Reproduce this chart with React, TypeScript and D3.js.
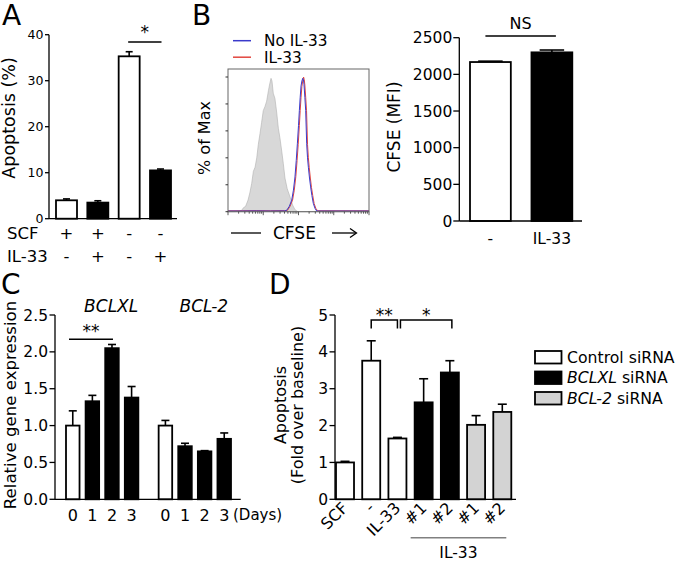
import React from 'react';
import * as d3 from 'd3';

const FONT = '"DejaVu Sans", Verdana, sans-serif';

// ---------- Panel A data ----------
const aSCF = ['+', '+', '-', '-'];
const aIL33 = ['-', '+', '-', '+'];
const aValues = [4.0, 3.5, 35.3, 10.5];
const aErrors = [0.3, 0.4, 1.0, 0.3];
const aTicks = [0, 10, 20, 30, 40];

// ---------- Panel B histogram data (x: channel 0-100, y: % of max) ----------
const histUnstained: [number, number][] = [
  [0, 0], [5, 0], [8, 0.5], [9.7, 1], [11, 3], [12.5, 4], [14.2, 8.6], [15.5, 14], [16.8, 21],
  [18, 30], [19.2, 33], [20.4, 40], [21.5, 50], [22.7, 58], [23.8, 66], [25, 75], [26.2, 78],
  [27.4, 82], [28.7, 90], [29.6, 95], [30.5, 99], [31.2, 97], [32.1, 88], [33.3, 84], [34.5, 74],
  [35.7, 62], [36.8, 55], [38.1, 45], [39.2, 36], [40.4, 25], [42, 17], [44, 11], [45.8, 5],
  [47.5, 1.5], [49.6, 0], [100, 0],
];
const histNoIL33: [number, number][] = [
  [0, 0.5], [10, 0.5], [20, 0.6], [30, 0.5], [40, 0.6], [41.6, 1], [43.5, 4], [45.2, 8.6],
  [46.4, 16], [47.5, 25.8], [48.4, 38], [49.2, 50.4], [50, 64], [50.6, 75], [51.2, 85],
  [51.8, 93.4], [52.4, 97], [53, 99], [53.5, 98], [53.9, 94.6], [54.5, 85], [55.1, 75],
  [55.8, 50.4], [56.4, 40], [57, 33], [57.8, 25], [58.6, 18.4], [59.5, 12], [60.5, 6.2],
  [61.7, 2.5], [62.9, 0.5], [100, 0.5],
];
const histIL33: [number, number][] = [
  [0, 0.7], [10, 0.7], [20, 0.8], [30, 0.7], [40, 0.8], [42.2, 1], [44, 4], [45.8, 8.6],
  [47, 16], [48.1, 26], [49, 38], [49.8, 50], [50.6, 64], [51.2, 75], [51.8, 85], [52.4, 93],
  [53, 97], [53.6, 100], [54.1, 98], [54.5, 94], [55.1, 85], [55.7, 75], [56.4, 50], [57, 40],
  [57.6, 33], [58.4, 25], [59.2, 18], [60.1, 12], [61.1, 6], [62.3, 2.5], [63.5, 0.7], [100, 0.7],
];
const histYTicks = [0, 20, 40, 60, 80, 100];
const histLegend = ['No IL-33', 'IL-33'];

// ---------- Panel B bar data ----------
const bCategories = ['-', 'IL-33'];
const bValues = [2168, 2300];
const bErrors = [12, 32];
const bTicks = [0, 500, 1000, 1500, 2000, 2500];

// ---------- Panel C data ----------
const cGenes = ['BCLXL', 'BCL-2'];
const cDays = ['0', '1', '2', '3'];
const cBCLXL = [1.0, 1.33, 2.05, 1.38];
const cBCLXLErr = [0.2, 0.08, 0.05, 0.15];
const cBCL2 = [1.0, 0.72, 0.65, 0.82];
const cBCL2Err = [0.07, 0.04, 0.01, 0.08];
const cTicks = [0, 0.5, 1.0, 1.5, 2.0, 2.5];

// ---------- Panel D data ----------
const dLabels = ['SCF', '-', 'IL-33', '#1', '#2', '#1', '#2'];
const dGroups = ['Control', 'Control', 'Control', 'BCLXL', 'BCLXL', 'BCL-2', 'BCL-2'];
const dValues = [1.0, 3.76, 1.65, 2.63, 3.44, 2.02, 2.37];
const dErrors = [0.03, 0.54, 0.03, 0.64, 0.32, 0.25, 0.21];
const dTicks = [0, 1, 2, 3, 4, 5];
const legendGroups = ['Control', 'BCLXL', 'BCL-2'];

const groupFill: Record<string, string> = { Control: '#ffffff', BCLXL: '#000000', 'BCL-2': '#d3d3d3' };

const BAR_STROKE = 1.8;

function ErrBar({ x, y0, y1, cap }: { x: number; y0: number; y1: number; cap: number }) {
  return (
    <g stroke="#000" strokeWidth={1.6} fill="none">
      <line x1={x} x2={x} y1={y0} y2={y1} />
      <line x1={x - cap / 2} x2={x + cap / 2} y1={y1} y2={y1} />
    </g>
  );
}

function YAxis({ x, scale, ticks, tickLen, fontSize, fmt, gap }: any) {
  const [r0, r1] = scale.range();
  return (
    <g>
      <line x1={x} x2={x} y1={r0} y2={r1} stroke="#000" strokeWidth={1.3} />
      {ticks.map((t: number) => (
        <g key={t}>
          <line x1={x - tickLen} x2={x} y1={scale(t)} y2={scale(t)} stroke="#000" strokeWidth={1.3} />
          <text x={x - tickLen - gap} y={scale(t)} dy="0.36em" textAnchor="end" fontSize={fontSize}>
            {fmt ? fmt(t) : String(t)}
          </text>
        </g>
      ))}
    </g>
  );
}

export default function App() {
  // ---------- Panel A ----------
  const aX = d3.scaleBand<number>().domain(d3.range(aValues.length)).range([56, 171]).paddingInner(0.33).paddingOuter(0);
  const aY = d3.scaleLinear().domain([0, 40]).range([218.7, 34.7]);
  const aBW = aX.bandwidth();

  // ---------- Panel B histogram ----------
  const hX = d3.scaleLinear().domain([0, 100]).range([228, 369]);
  const hY = d3.scaleLinear().domain([0, 100]).range([211.7, 77]);
  const hLine = d3.line<[number, number]>().x((d) => hX(d[0])).y((d) => hY(d[1]));
  const hArea = d3.area<[number, number]>().x((d) => hX(d[0])).y0(hY(0)).y1((d) => hY(d[1]));
  const hLog = d3.scaleLog().domain([1, 10000]).range([228, 369]);
  const logTicks: { v: number; major: boolean }[] = [];
  for (let e = 0; e < 4; e++) {
    for (let m = 1; m < 10; m++) logTicks.push({ v: m * Math.pow(10, e), major: m === 1 });
  }
  logTicks.push({ v: 10000, major: true });

  // ---------- Panel B bars ----------
  const bX = d3.scaleBand<string>().domain(bCategories).range([470, 572.3]).paddingInner(0.336).paddingOuter(0);
  const bY = d3.scaleLinear().domain([0, 2500]).range([221, 37.7]);
  const bBW = bX.bandwidth();

  // ---------- Panel C ----------
  const cOuter = d3.scaleBand<string>().domain(cGenes).range([66, 231]).paddingInner(0.219).paddingOuter(0);
  const cInner = d3.scaleBand<string>().domain(cDays).range([0, cOuter.bandwidth()]).paddingInner(0.31).paddingOuter(0);
  const cY = d3.scaleLinear().domain([0, 2.5]).range([499.3, 315]);
  const cBW = cInner.bandwidth();
  const cSeries = [
    { gene: cGenes[0], values: cBCLXL, errs: cBCLXLErr },
    { gene: cGenes[1], values: cBCL2, errs: cBCL2Err },
  ];
  const cBarX = (g: string, d: string) => (cOuter(g) as number) + (cInner(d) as number);

  // ---------- Panel D ----------
  const dX = d3.scaleBand<number>().domain(d3.range(dValues.length)).range([336, 511.3]).paddingInner(0.313).paddingOuter(0);
  const dY = d3.scaleLinear().domain([0, 5]).range([499.3, 315]);
  const dBW = dX.bandwidth();
  const dC = (i: number) => (dX(i) as number) + dBW / 2;

  const italicGene = (g: string) => <tspan fontStyle="italic">{g}</tspan>;

  return (
    <svg
      width={679}
      height={562}
      style={{ position: 'absolute', left: 0, top: 0, background: '#fff' }}
      fontFamily={FONT}
      fill="#000"
    >
      {/* ================= Panel A ================= */}
      <text x={2} y={25} fontSize={28}>A</text>
      <text transform={`translate(15,118) rotate(-90)`} textAnchor="middle" fontSize={17.5}>Apoptosis (%)</text>
      <YAxis x={49} scale={aY} ticks={aTicks} tickLen={4} fontSize={12.5} gap={1.5} />
      {aValues.map((v, i) => (
        <g key={i}>
          <rect
            x={aX(i)}
            y={aY(v)}
            width={aBW}
            height={aY(0) - aY(v)}
            fill={aIL33[i] === '+' ? '#000' : '#fff'}
            stroke="#000"
            strokeWidth={BAR_STROKE}
          />
          <ErrBar x={(aX(i) as number) + aBW / 2} y0={aY(v)} y1={aY(v + aErrors[i])} cap={7} />
        </g>
      ))}
      <line x1={49} x2={177} y1={aY(0)} y2={aY(0)} stroke="#000" strokeWidth={1.3} />
      <line x1={(aX(2) as number) + aBW / 2 - 1} x2={(aX(3) as number) + aBW / 2 + 1} y1={42} y2={42} stroke="#000" strokeWidth={1.5} />
      <text x={((aX(2) as number) + (aX(3) as number)) / 2 + aBW / 2} y={38} textAnchor="middle" fontSize={17}>*</text>
      <text x={7} y={233} dy="0.36em" fontSize={16.5}>SCF</text>
      <text x={7} y={256} dy="0.36em" fontSize={16.5}>IL-33</text>
      {aSCF.map((s, i) => (
        <text key={'s' + i} x={(aX(i) as number) + aBW / 2} y={233} dy="0.36em" textAnchor="middle" fontSize={16.5}>{s}</text>
      ))}
      {aIL33.map((s, i) => (
        <text key={'l' + i} x={(aX(i) as number) + aBW / 2} y={256} dy="0.36em" textAnchor="middle" fontSize={16.5}>{s}</text>
      ))}

      {/* ================= Panel B histogram ================= */}
      <text x={192} y={25} fontSize={28}>B</text>
      {histLegend.map((name, i) => (
        <g key={name}>
          <line x1={233} x2={251} y1={40.7 + i * 16.5} y2={40.7 + i * 16.5} stroke={i === 0 ? '#3a3acb' : '#e2463f'} strokeWidth={1.5} />
          <text x={264} y={40.7 + i * 16.5} dy="0.36em" fontSize={15.3}>{name}</text>
        </g>
      ))}
      <path d={hArea(histUnstained) || ''} fill="#d8d8d8" stroke="#b0b0b0" strokeWidth={0.6} />
      <path d={hLine(histIL33) || ''} fill="none" stroke="#e2463f" strokeWidth={1} />
      <path d={hLine(histNoIL33) || ''} fill="none" stroke="#3a3acb" strokeWidth={1} />
      <rect x={228} y={69} width={141} height={142.7} fill="none" stroke="#666" strokeWidth={1} />
      {histYTicks.map((t) => (
        <line key={t} x1={225.5} x2={228} y1={hY(t)} y2={hY(t)} stroke="#333" strokeWidth={1} />
      ))}
      {logTicks.map((t, i) => (
        <line key={i} x1={hLog(t.v)} x2={hLog(t.v)} y1={211.7} y2={211.7 + (t.major ? 3.5 : 2)} stroke="#333" strokeWidth={0.8} />
      ))}
      <text transform={`translate(210,138) rotate(-90)`} textAnchor="middle" fontSize={16}>% of Max</text>
      <line x1={231} x2={261} y1={233} y2={233} stroke="#000" strokeWidth={1.3} />
      <text x={273} y={233} dy="0.36em" fontSize={17}>CFSE</text>
      <line x1={332} x2={356} y1={233} y2={233} stroke="#000" strokeWidth={1.3} />
      <path d="M350,228.5 L356.5,233 L350,237.5" fill="none" stroke="#000" strokeWidth={1.3} />

      {/* ================= Panel B bars ================= */}
      <text transform={`translate(400,127) rotate(-90)`} textAnchor="middle" fontSize={17}>CFSE (MFI)</text>
      <YAxis x={459.3} scale={bY} ticks={bTicks} tickLen={6} fontSize={15.5} gap={1} />
      {bCategories.map((c, i) => (
        <g key={c}>
          <rect
            x={bX(c)}
            y={bY(bValues[i])}
            width={bBW}
            height={bY(0) - bY(bValues[i])}
            fill={i === 0 ? '#fff' : '#000'}
            stroke="#000"
            strokeWidth={BAR_STROKE}
          />
          <ErrBar x={(bX(c) as number) + bBW / 2} y0={bY(bValues[i])} y1={bY(bValues[i] + bErrors[i])} cap={bBW * 0.6} />
          <text x={(bX(c) as number) + bBW / 2} y={238} dy="0.36em" textAnchor="middle" fontSize={15.5}>{c}</text>
        </g>
      ))}
      <line x1={459.3} x2={582} y1={bY(0)} y2={bY(0)} stroke="#000" strokeWidth={1.3} />
      <line x1={(bX('-') as number) + bBW / 2 - 5} x2={(bX('IL-33') as number) + bBW / 2 + 4} y1={36} y2={36} stroke="#000" strokeWidth={1.5} />
      <text x={520.5} y={23} dy="0.36em" textAnchor="middle" fontSize={16}>NS</text>

      {/* ================= Panel C ================= */}
      <text x={1} y={294} fontSize={28}>C</text>
      <text transform={`translate(15.5,405) rotate(-90)`} textAnchor="middle" fontSize={16.6}>Relative gene expression</text>
      <YAxis x={55} scale={cY} ticks={cTicks} tickLen={5.5} fontSize={15.5} gap={1.5} fmt={(t: number) => t.toFixed(1)} />
      {cSeries.map((s) => (
        <g key={s.gene}>
          <text x={(cOuter(s.gene) as number) + cOuter.bandwidth() / 2 + 9} y={306} dy="0.36em" textAnchor="middle" fontSize={17}>
            {italicGene(s.gene)}
          </text>
          {cDays.map((d, i) => {
            const x = cBarX(s.gene, d);
            return (
              <g key={d}>
                <rect
                  x={x}
                  y={cY(s.values[i])}
                  width={cBW}
                  height={cY(0) - cY(s.values[i])}
                  fill={i === 0 ? '#fff' : '#000'}
                  stroke="#000"
                  strokeWidth={BAR_STROKE}
                />
                <ErrBar x={x + cBW / 2} y0={cY(s.values[i])} y1={cY(s.values[i] + s.errs[i])} cap={8} />
                <text x={x + cBW / 2} y={515} dy="0.36em" textAnchor="middle" fontSize={16}>{d}</text>
              </g>
            );
          })}
        </g>
      ))}
      <text x={cBarX(cGenes[1], '3') + cBW + 2} y={515} dy="0.36em" fontSize={15}>(Days)</text>
      <line x1={55} x2={240.7} y1={cY(0)} y2={cY(0)} stroke="#000" strokeWidth={1.3} />
      <line x1={cBarX(cGenes[0], '0') + 3} x2={cBarX(cGenes[0], '2') + cBW / 2 + 1} y1={339.3} y2={339.3} stroke="#000" strokeWidth={1.5} />
      <text x={(cBarX(cGenes[0], '0') + cBarX(cGenes[0], '2') + cBW / 2 + 4) / 2} y={337} textAnchor="middle" fontSize={17}>**</text>

      {/* ================= Panel D ================= */}
      <text x={269} y={294} fontSize={28}>D</text>
      <text transform={`translate(286,405) rotate(-90)`} textAnchor="middle" fontSize={16}>Apoptosis</text>
      <text transform={`translate(303,405) rotate(-90)`} textAnchor="middle" fontSize={16}>(Fold over baseline)</text>
      <YAxis x={335} scale={dY} ticks={dTicks} tickLen={5.5} fontSize={15.5} gap={1.5} />
      {dValues.map((v, i) => (
        <g key={i}>
          <rect
            x={dX(i)}
            y={dY(v)}
            width={dBW}
            height={dY(0) - dY(v)}
            fill={groupFill[dGroups[i]]}
            stroke="#000"
            strokeWidth={BAR_STROKE}
          />
          <ErrBar x={dC(i)} y0={dY(v)} y1={dY(v + dErrors[i])} cap={9} />
          <text
            transform={`translate(${dC(i) + 4},${509}) rotate(-45)`}
            textAnchor="end"
            fontSize={16}
          >
            {dLabels[i]}
          </text>
        </g>
      ))}
      <line x1={335} x2={516} y1={dY(0)} y2={dY(0)} stroke="#000" strokeWidth={1.3} />
      {/* brackets */}
      <path d={`M${dC(1)},328.5 V320 H${dC(2)} V328.5`} fill="none" stroke="#000" strokeWidth={1.5} />
      <text x={(dC(1) + dC(2)) / 2} y={321} textAnchor="middle" fontSize={17}>**</text>
      <path d={`M${dC(2) + 3},328.5 V320 H${dC(4) + 2} V328.5`} fill="none" stroke="#000" strokeWidth={1.5} />
      <text x={(dC(2) + dC(4) + 5) / 2} y={321} textAnchor="middle" fontSize={17}>*</text>
      <line x1={(dX(3) as number) - 4} x2={(dX(6) as number) + dBW - 5} y1={537.7} y2={537.7} stroke="#808080" strokeWidth={1.5} />
      <text x={((dX(3) as number) + (dX(6) as number) + dBW - 9) / 2} y={552} dy="0.36em" textAnchor="middle" fontSize={15.5}>IL-33</text>

      {/* legend */}
      {legendGroups.map((g, i) => (
        <g key={g}>
          <rect x={535} y={351 + i * 20.5} width={26.5} height={12.5} fill={groupFill[g]} stroke="#000" strokeWidth={BAR_STROKE} />
          <text x={567} y={357.3 + i * 20.5} dy="0.36em" fontSize={15.7}>
            {g === 'Control' ? 'Control' : italicGene(g)} siRNA
          </text>
        </g>
      ))}
    </svg>
  );
}
